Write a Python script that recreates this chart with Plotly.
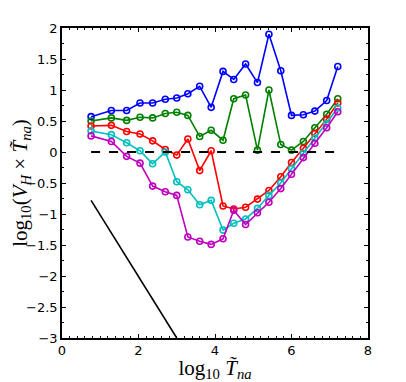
import plotly.graph_objects as go

# log10 T_na sample points (shared by all curves)
log_t = [0.76, 1.29, 1.69, 2.04, 2.37, 2.70, 3.00, 3.29, 3.60, 3.90, 4.21,
         4.49, 4.80, 5.11, 5.41, 5.72, 6.00, 6.31, 6.61, 6.92, 7.21]

blue = [0.57, 0.67, 0.67, 0.79, 0.79, 0.85, 0.87, 0.94, 1.06, 0.72, 1.30,
        1.17, 1.42, 1.12, 1.90, 1.31, 0.59, 0.60, 0.66, 0.83, 1.38]
green = [0.50, 0.55, 0.51, 0.56, 0.55, 0.62, 0.64, 0.59, 0.25, 0.35, 0.19,
         0.86, 0.92, 0.03, 1.00, 0.12, 0.03, 0.17, 0.39, 0.61, 0.86]
red = [0.42, 0.43, 0.33, 0.29, 0.18, 0.04, -0.05, 0.21, -0.30, 0.02, -0.87,
       -0.92, -0.89, -0.76, -0.62, -0.40, -0.17, 0.06, 0.30, 0.53, 0.79]
cyan = [0.34, 0.28, 0.15, 0.02, -0.19, 0.00, -0.48, -0.61, -0.85, -0.78, -1.26,
        -1.15, -1.08, -0.91, -0.70, -0.50, -0.27, -0.02, 0.22, 0.46, 0.71]
magenta = [0.26, 0.17, -0.07, -0.18, -0.55, -0.64, -0.70, -1.37, -1.44, -1.49, -1.40,
           -0.94, -1.17, -0.98, -0.81, -0.59, -0.36, -0.09, 0.14, 0.39, 0.65]

# reference slope line and zero line
slope_x = [0.76, 3.0]
slope_y = [-0.78, -3.0]
zero_x = [0.76, 7.21]
zero_y = [0, 0]

series = [(blue, "#0000ff"), (green, "#008000"), (red, "#ff0000"),
          (cyan, "#00bfbf"), (magenta, "#bf00bf")]

fig = go.Figure()
for vals, col in series:
    fig.add_trace(go.Scatter(
        x=log_t, y=vals, mode="lines+markers",
        line=dict(color=col, width=1.6),
        marker=dict(symbol="circle-open", size=6, color=col, line=dict(width=1.6)),
        showlegend=False,
    ))

fig.add_trace(go.Scatter(x=zero_x, y=zero_y, mode="lines",
                         line=dict(color="black", width=2, dash="dash"), showlegend=False))
fig.add_trace(go.Scatter(x=slope_x, y=slope_y, mode="lines",
                         line=dict(color="black", width=1.6), showlegend=False))

axis_common = dict(
    showgrid=False, zeroline=False, showline=True, linecolor="black", linewidth=1.5,
    mirror="allticks", ticks="inside", ticklen=4, tickcolor="black", tickwidth=1,
    tickfont=dict(family="DejaVu Sans", size=13, color="black"),
    automargin=False,
)

fig.update_xaxes(
    range=[0, 8], tick0=0, dtick=2,
    minor=dict(dtick=0.2, ticks="inside", ticklen=2, tickcolor="black"),
    title=dict(text="log<sub>10</sub> <i>T̃</i><sub><i>na</i></sub>",
               font=dict(family="Liberation Serif", size=21, color="black")),
    **axis_common,
)
fig.update_yaxes(
    range=[-3, 2], tick0=-3, dtick=0.5,
    minor=dict(dtick=0.25, ticks="inside", ticklen=2, tickcolor="black"),
    title=dict(text="log<sub>10</sub>(<i>V</i><sub><i>H</i></sub> × <i>T̃</i><sub><i>na</i></sub>)",
               font=dict(family="Liberation Serif", size=21, color="black")),
    **axis_common,
)

# the page has an 8px body margin, so the figure is sized to fit inside it
fig.update_layout(
    width=398, height=374,
    margin=dict(l=54, r=38, t=20, b=44),
    plot_bgcolor="white", paper_bgcolor="white",
)

fig.write_html("out.html")
